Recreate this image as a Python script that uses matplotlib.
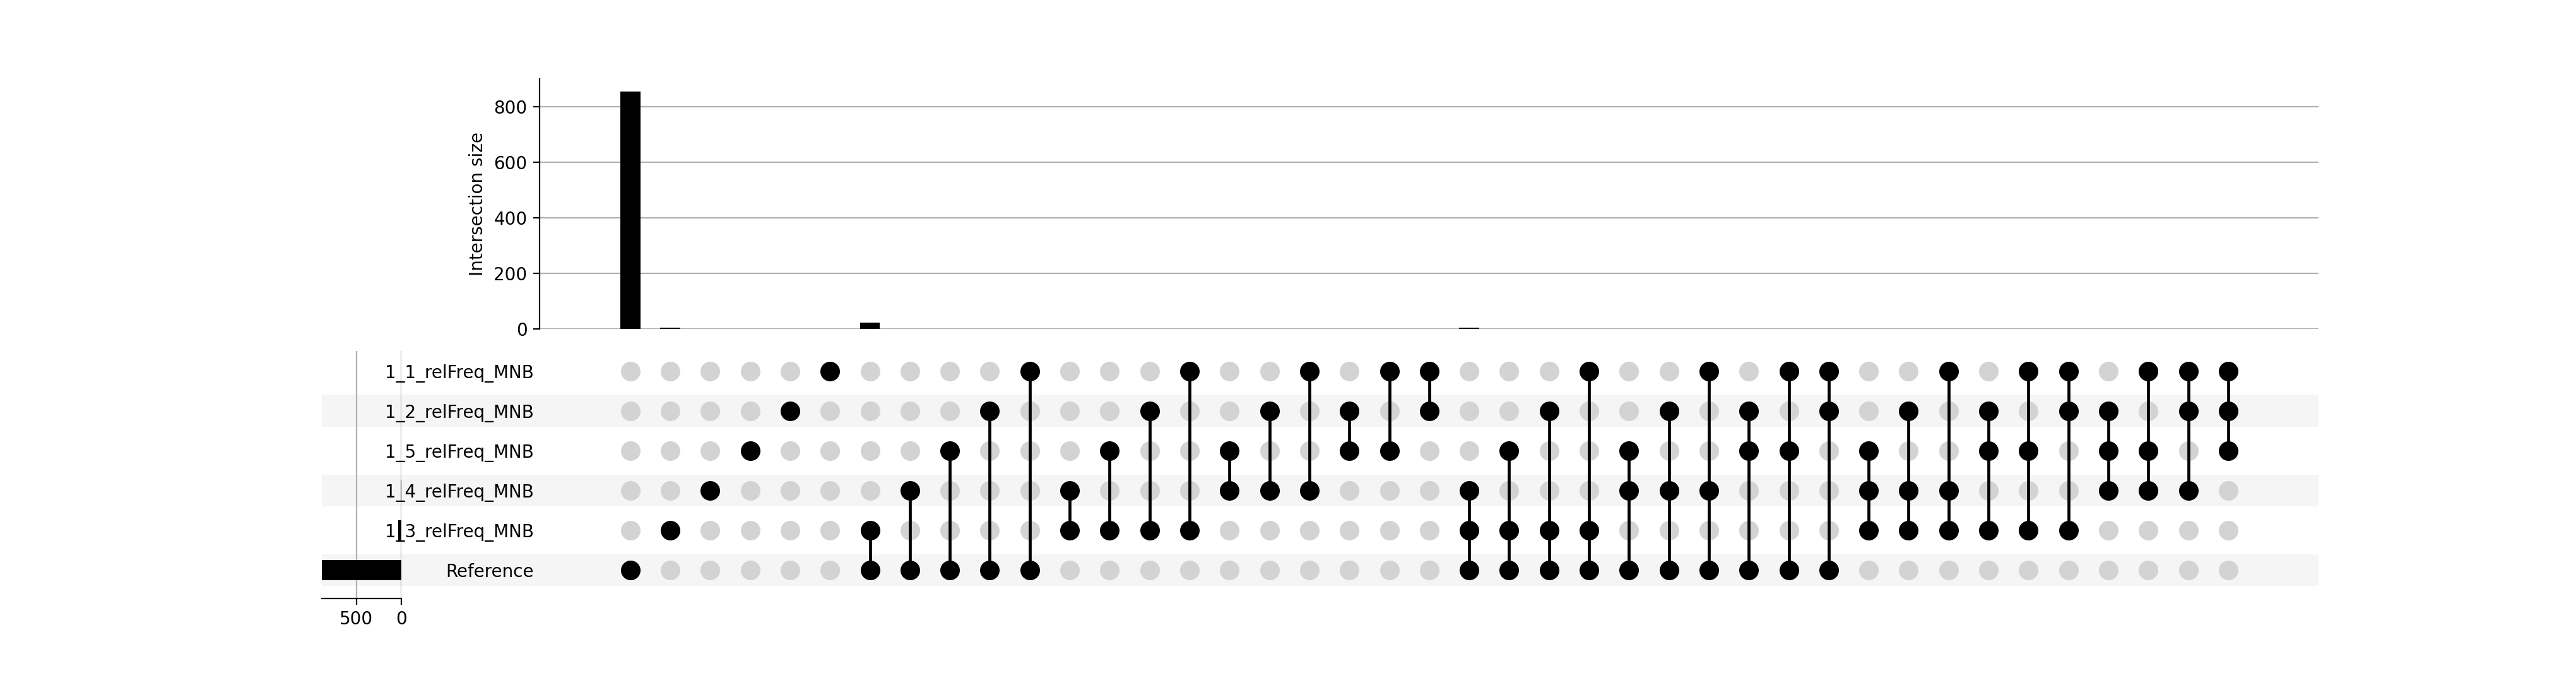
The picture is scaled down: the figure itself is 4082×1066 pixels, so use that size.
import numpy as np
import matplotlib.pyplot as plt

# sets, top row to bottom row of the matrix
set_names = ['1_1_relFreq_MNB', '1_2_relFreq_MNB', '1_5_relFreq_MNB',
             '1_4_relFreq_MNB', '1_3_relFreq_MNB', 'Reference']

# each column: indices of the sets that take part in it
combos = [(5,), (4,), (3,), (2,), (1,), (0,),
          (4, 5), (3, 5), (2, 5), (1, 5), (0, 5),
          (3, 4), (2, 4), (1, 4), (0, 4),
          (2, 3), (1, 3), (0, 3),
          (1, 2), (0, 2), (0, 1),
          (3, 4, 5), (2, 4, 5), (1, 4, 5), (0, 4, 5),
          (2, 3, 5), (1, 3, 5), (0, 3, 5),
          (1, 2, 5), (0, 2, 5), (0, 1, 5),
          (2, 3, 4), (1, 3, 4), (0, 3, 4),
          (1, 2, 4), (0, 2, 4), (0, 1, 4),
          (1, 2, 3), (0, 2, 3), (0, 1, 3), (0, 1, 2)]

inter_sizes = [855, 5, 0, 0, 0, 0,
               22, 0, 0, 0, 0,
               0, 0, 0, 0,
               0, 0, 0,
               0, 0, 0,
               5, 0, 0, 0,
               0, 0, 0,
               0, 0, 0,
               0, 0, 0,
               0, 0, 0,
               0, 0, 0, 0]

bar_ticks = [0, 200, 400, 600, 800]
total_ticks = [500, 0]

n_sets = len(set_names)
n_cols = len(combos)
member = np.zeros((n_sets, n_cols), dtype=bool)
for j, c in enumerate(combos):
    member[list(c), j] = True
set_sizes = member.astype(int) @ np.array(inter_sizes)

W, H = 4082, 1066
DPI = 200
fig = plt.figure(figsize=(W / DPI, H / DPI), dpi=DPI)

def px_axes(x0, y0, x1, y1, **kw):
    return fig.add_axes([x0 / W, 1 - y1 / H, (x1 - x0) / W, (y1 - y0) / H], **kw)

xs = np.arange(n_cols)
rows = np.arange(n_sets)
xlim = (-2.27, 42.26)
ylim = (5.714, -0.5)

# striped background behind totals, labels and matrix
ax_bg = px_axes(510, 556, 3674, 948)
ax_bg.set_xlim(0, 1)
ax_bg.set_ylim(*ylim)
for i in rows[1::2]:
    ax_bg.axhspan(i - 0.4, i + 0.4, color='#f5f5f5', lw=0)
ax_bg.axis('off')

# intersection size bars
ax_bar = px_axes(855, 125, 3674, 521)
ax_bar.set_facecolor('none')
ax_bar.bar(xs, inter_sizes, width=0.5, color='black', zorder=3)
ax_bar.set_xlim(*xlim)
ax_bar.set_ylim(0, 900)
ax_bar.set_yticks(bar_ticks)
ax_bar.set_xticks([])
ax_bar.grid(axis='y', color='#b0b0b0', lw=0.8)
ax_bar.set_axisbelow(True)
for s in ['top', 'right', 'bottom']:
    ax_bar.spines[s].set_visible(False)
ax_bar.set_ylabel('Intersection size', fontsize=10)
ax_bar.tick_params(axis='y', labelsize=10)

# set totals
ax_tot = px_axes(510, 556, 636, 948)
ax_tot.set_facecolor('none')
ax_tot.barh(rows, set_sizes, height=0.5, color='black', zorder=3)
ax_tot.set_xlim(set_sizes.max(), 0)
ax_tot.set_ylim(*ylim)
ax_tot.set_xticks(total_ticks)
ax_tot.set_yticks([])
ax_tot.grid(axis='x', color='#b0b0b0', lw=0.8)
ax_tot.set_axisbelow(True)
for s in ['top', 'right', 'left']:
    ax_tot.spines[s].set_visible(False)
ax_tot.tick_params(axis='x', labelsize=10)

# matrix of dots
ax_mat = px_axes(855, 556, 3674, 948)
ax_mat.set_facecolor('none')
gx, gy = np.meshgrid(xs, rows)
ax_mat.scatter(gx[~member], gy[~member], s=125, color='#d3d3d3', lw=0, zorder=2)
ax_mat.scatter(gx[member], gy[member], s=125, color='black', lw=0, zorder=3)
for j in xs:
    r = rows[member[:, j]]
    if len(r) > 1:
        ax_mat.plot([j, j], [r.min(), r.max()], color='black', lw=1.7, zorder=2.5)
ax_mat.set_xlim(*xlim)
ax_mat.set_ylim(*ylim)
ax_mat.set_xticks([])
ax_mat.set_yticks(rows, labels=set_names)
ax_mat.tick_params(axis='y', length=0, pad=3.2, labelsize=10)
for s in ax_mat.spines.values():
    s.set_visible(False)

fig.savefig('out.png', dpi=DPI)
